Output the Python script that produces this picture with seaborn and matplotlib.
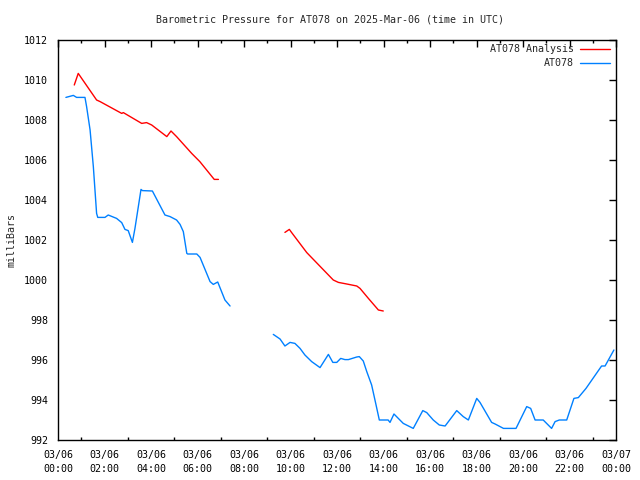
import matplotlib
matplotlib.use("Agg")
import matplotlib.pyplot as plt
import seaborn as sns
import pandas as pd

sns.set_theme(style="white")
plt.rcParams['font.family'] = ['DejaVu Sans Mono']

title = "Barometric Pressure for AT078 on 2025-Mar-06 (time in UTC)"
ylabel = "milliBars"
series_names = ["AT078 Analysis", "AT078"]
xtick_hours = list(range(0, 25, 2))
xtick_labels = ["03/06\n%02d:00" % h for h in range(0, 24, 2)] + ["03/07\n00:00"]
yticks = list(range(992, 1013, 2))

# Analysis (red), two segments (hours since 03/06 00:00, mb)
red_t1 = [0.70, 0.87, 1.66, 1.81, 2.74, 2.81, 3.60, 3.81, 4.03, 4.68, 4.86, 5.10, 5.75, 6.10, 6.72, 6.90]
red_p1 = [1009.75, 1010.33, 1009.0, 1008.92, 1008.33, 1008.37, 1007.83, 1007.87, 1007.75, 1007.17,
          1007.45, 1007.17, 1006.33, 1005.92, 1005.03, 1005.03]
red_t2 = [9.76, 9.95, 10.05, 10.70, 11.84, 12.06, 12.42, 12.85, 12.99, 13.35, 13.78, 13.99]
red_p2 = [1002.38, 1002.53, 1002.37, 1001.37, 1000.0, 999.88, 999.8, 999.7, 999.58, 999.08, 998.5, 998.45]

# Observations (blue), two segments
blue_t1 = [0.34, 0.66, 0.80, 1.16, 1.23, 1.38, 1.52, 1.66, 1.71, 2.02, 2.16, 2.52, 2.74, 2.88, 3.02,
           3.20, 3.31, 3.57, 3.63, 4.06, 4.60, 4.82, 5.10, 5.25, 5.39, 5.54, 5.58, 5.97, 6.11, 6.54,
           6.68, 6.87, 7.18, 7.40]
blue_p1 = [1009.13, 1009.23, 1009.13, 1009.13, 1008.67, 1007.5, 1005.67, 1003.33, 1003.13, 1003.13,
           1003.25, 1003.08, 1002.87, 1002.53, 1002.47, 1001.88, 1002.58, 1004.53, 1004.47, 1004.45,
           1003.25, 1003.17, 1003.0, 1002.78, 1002.42, 1001.33, 1001.3, 1001.3, 1001.13, 999.92,
           999.78, 999.9, 999.0, 998.7]
blue_t2 = [9.26, 9.55, 9.76, 9.98, 10.19, 10.41, 10.62, 10.91, 11.27, 11.63, 11.82, 11.99, 12.16,
           12.34, 12.49, 12.85, 12.96, 13.13, 13.28, 13.49, 13.68, 13.82, 14.20, 14.28, 14.45, 14.85,
           15.28, 15.69, 15.86, 16.14, 16.40, 16.65, 17.15, 17.43, 17.65, 18.01, 18.15, 18.65, 18.80,
           19.16, 19.44, 19.70, 20.16, 20.33, 20.52, 20.87, 21.23, 21.38, 21.56, 21.88, 22.19, 22.38,
           22.71, 23.38, 23.53, 23.91]
blue_p2 = [997.28, 997.05, 996.7, 996.88, 996.83, 996.58, 996.25, 995.92, 995.62, 996.28, 995.88,
           995.88, 996.08, 996.02, 996.02, 996.15, 996.17, 995.95, 995.42, 994.75, 993.75, 993.0,
           993.0, 992.88, 993.3, 992.83, 992.58, 993.47, 993.37, 993.0, 992.75, 992.7, 993.47, 993.17,
           993.0, 994.08, 993.88, 992.88, 992.8, 992.58, 992.58, 992.58, 993.67, 993.58, 993.0, 993.0,
           992.58, 992.92, 993.0, 993.0, 994.08, 994.12, 994.58, 995.7, 995.7, 996.5]

frames = []
for name, seg, t, p in [(series_names[0], 1, red_t1, red_p1), (series_names[0], 2, red_t2, red_p2),
                        (series_names[1], 1, blue_t1, blue_p1), (series_names[1], 2, blue_t2, blue_p2)]:
    frames.append(pd.DataFrame({"hour": t, "pressure": p, "series": name, "seg": seg}))
df = pd.concat(frames, ignore_index=True)

FS = 7.2

fig = plt.figure(figsize=(6.4, 4.8), dpi=100)
ax = fig.add_axes([58 / 640, 1 - 440 / 480, (616 - 58) / 640, 400 / 480])

sns.lineplot(data=df, x="hour", y="pressure", hue="series", units="seg", estimator=None,
             palette={series_names[0]: "#ff0000", series_names[1]: "#0080ff"},
             linewidth=1.0, ax=ax, legend=False)

ax.set_xlim(0, 24)
ax.set_ylim(992, 1012)
ax.set_xticks(xtick_hours)
ax.set_xticklabels(xtick_labels, linespacing=1.5)
ax.set_xticks(range(1, 24, 2), minor=True)
ax.set_yticks(yticks)
ax.set_yticklabels([str(v) for v in yticks])
ax.tick_params(axis="both", which="major", direction="in", length=5, width=1, color="black",
               labelsize=FS, top=True, right=True, labelcolor="black", pad=7)
ax.tick_params(axis="x", which="minor", direction="in", length=2.5, width=1, color="black",
               top=True, bottom=True)
ax.set_xlabel("")
ax.set_ylabel("")
for s in ax.spines.values():
    s.set_color("black")
    s.set_linewidth(1)
ax.grid(False)

fig.text(12 / 640, 1 - 240 / 480, ylabel, ha="center", va="center", rotation=90, fontsize=FS)
fig.text(330 / 640, 1 - 19 / 480, title, ha="center", va="center", fontsize=FS)

# legend in gnuplot style: right-aligned text and line sample
for i, (name, col) in enumerate([(series_names[0], "#ff0000"), (series_names[1], "#0080ff")]):
    ypix = 49 + 14 * i
    fig.text(574 / 640, 1 - ypix / 480, name, ha="right", va="center", fontsize=FS)
    fig.add_artist(plt.Line2D([580 / 640, 610 / 640], [1 - ypix / 480] * 2, color=col, linewidth=1.0))

fig.savefig("out.png", dpi=100)
